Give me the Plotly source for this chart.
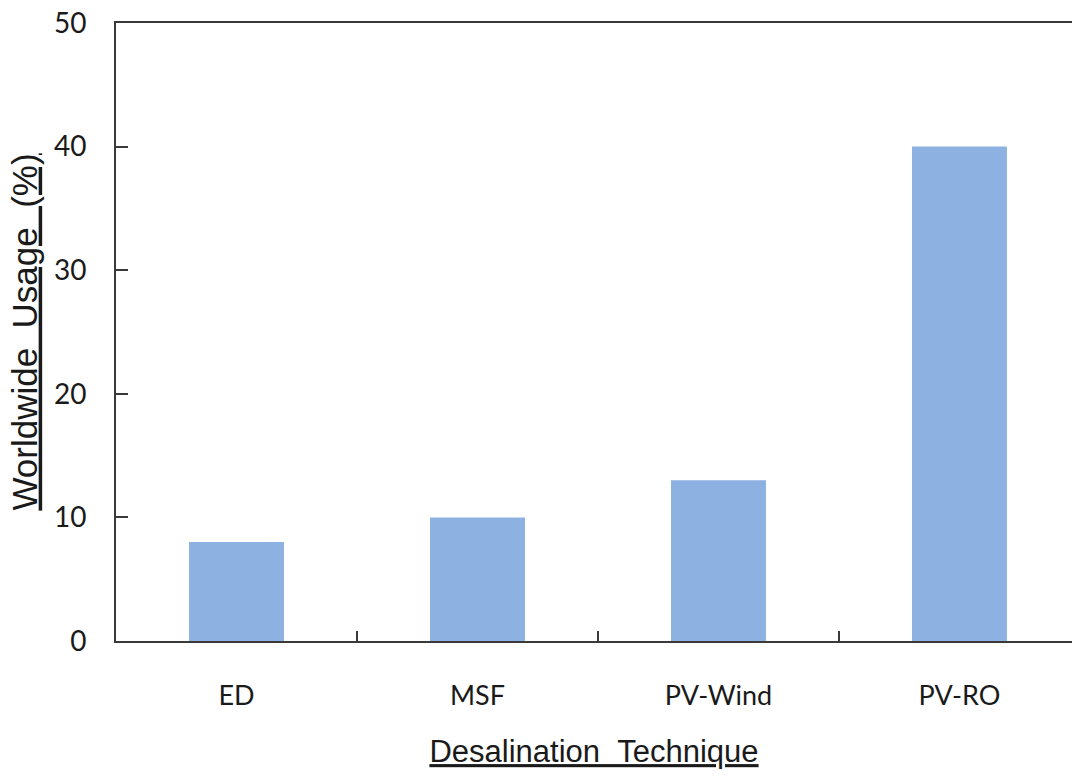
import plotly.graph_objects as go

# Worldwide usage share of desalination techniques
techniques = ["ED", "MSF", "PV-Wind", "PV-RO"]
usage_pct = [8, 10, 13, 40]
y_ticks = [0, 10, 20, 30, 40, 50]

AXIS_COLOR = "#3a3a3a"
BAR_COLOR = "#8db1e0"

fig = go.Figure(
    go.Bar(
        x=techniques,
        y=usage_pct,
        marker=dict(color=BAR_COLOR, line=dict(width=0)),
    )
)

fig.update_layout(
    width=1072,
    height=778,
    margin=dict(l=116, r=0, t=23, b=137),
    paper_bgcolor="white",
    plot_bgcolor="white",
    showlegend=False,
    bargap=0.606,
    font=dict(family="Lato, Liberation Sans, sans-serif", color="#1a1a1a"),
)

fig.update_xaxes(
    range=[-0.5, 3.467],
    showgrid=False,
    zeroline=False,
    showline=True,
    linecolor=AXIS_COLOR,
    linewidth=2,
    mirror=True,
    ticks="inside",
    tickson="boundaries",
    ticklen=10,
    tickwidth=2,
    tickcolor=AXIS_COLOR,
    tickfont=dict(size=27, family="Lato, sans-serif", color="#1a1a1a"),
    ticklabelstandoff=30,
    title=dict(
        text="<u>Desalination\u00a0\u00a0Technique</u>",
        font=dict(size=31, family="Liberation Sans, Arial, sans-serif", color="#1a1a1a"),
        standoff=30,
    ),
)

fig.update_yaxes(
    range=[0, 50],
    tickvals=y_ticks,
    showgrid=False,
    zeroline=False,
    showline=True,
    linecolor=AXIS_COLOR,
    linewidth=2,
    mirror=False,
    ticks="inside",
    ticklen=12,
    tickwidth=2,
    tickcolor=AXIS_COLOR,
    tickfont=dict(size=28, family="Lato, sans-serif", color="#1a1a1a"),
    ticklabelstandoff=22,
    title=dict(
        text="<u>Worldwide\u00a0\u00a0Usage\u00a0\u00a0(%)</u>",
        font=dict(size=35, family="Liberation Sans, Arial, sans-serif", color="#1a1a1a"),
        standoff=6,
    ),
)

fig.write_html("out.html")
